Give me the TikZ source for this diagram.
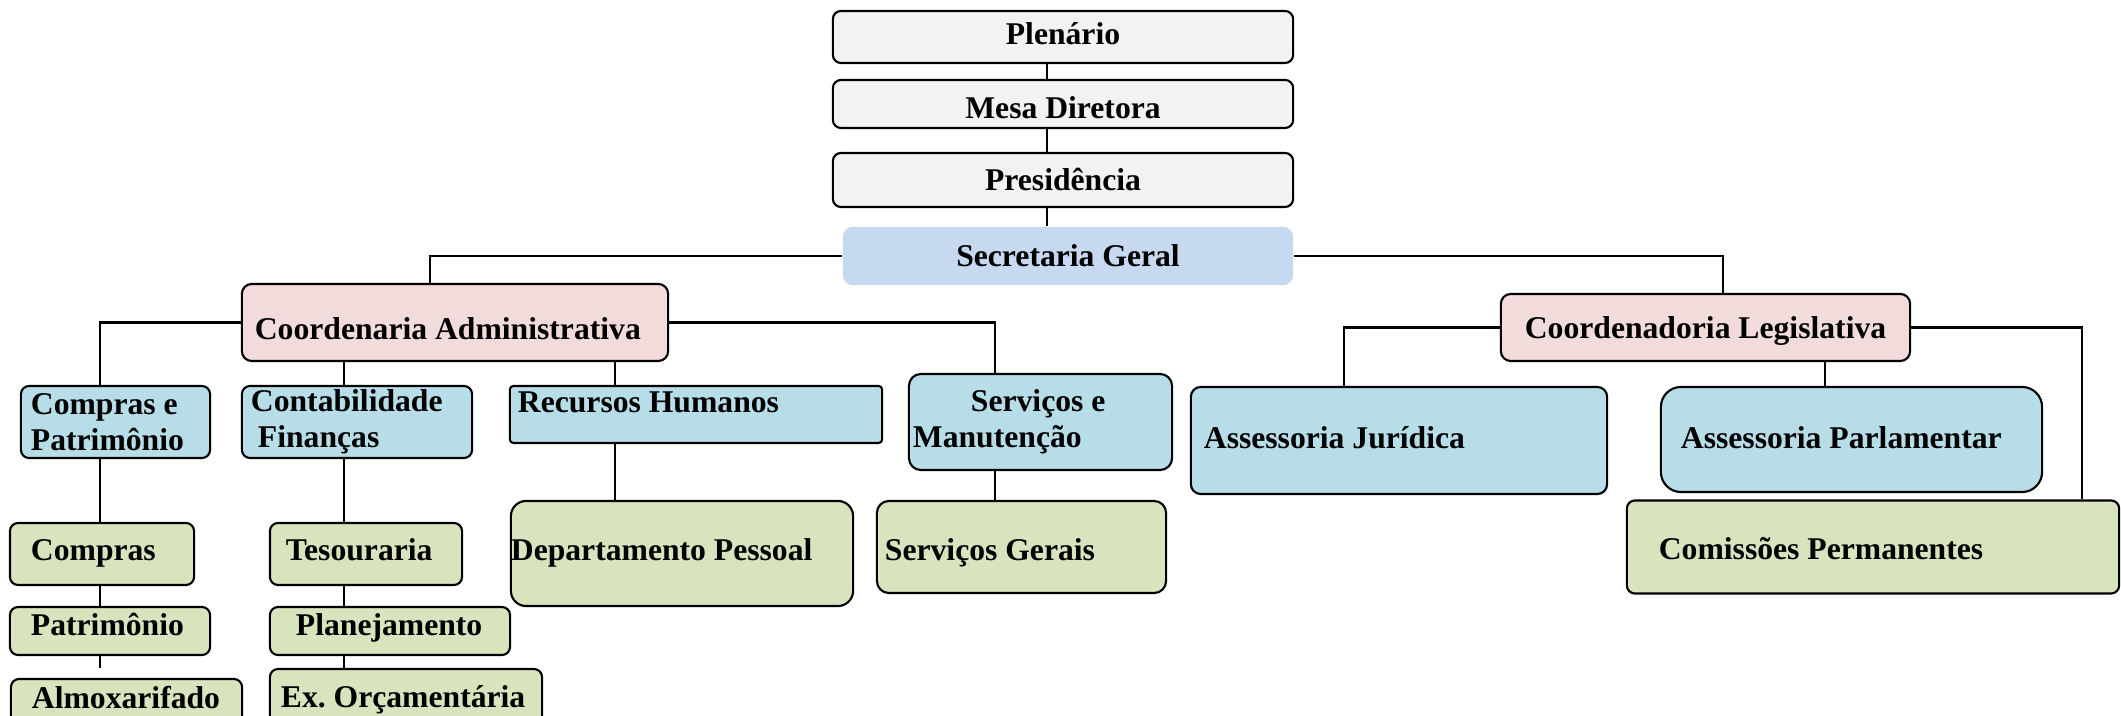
\documentclass[tikz,border=0pt]{standalone}
\usepackage{fontspec}
\setmainfont{Liberation Serif}
\usepackage{tikz}
\pgfdeclarelayer{background}
\pgfdeclarelayer{foreground}
\pgfsetlayers{background,main,foreground}
\definecolor{topgray}{HTML}{F2F2F2}
\definecolor{secblue}{HTML}{C6D9F1}
\definecolor{coordpink}{HTML}{F2DCDB}
\definecolor{deptblue}{HTML}{B7DEE8}
\definecolor{sectgreen}{HTML}{D7E4BD}
\hyphenpenalty=10000
\exhyphenpenalty=10000
\tikzset{
  unit/.style={draw=black, line width=0.6pt, rounded corners=2.3pt, inner ysep=0pt, font=\fontsize{9}{10.2}\selectfont\bfseries},
  topbox/.style={unit, fill=topgray, minimum width=4.6cm},
  secbox/.style={unit, draw=none, fill=secblue, rounded corners=2.8pt},
  coordbox/.style={unit, fill=coordpink, rounded corners=2.8pt},
  deptbox/.style={unit, fill=deptblue},
  sectbox/.style={unit, fill=sectgreen},
  lft/.style 2 args={inner xsep=#1, text width=#2, align=flush left},
  txt/.style={text height=6.5pt, text depth=#1},
  txt/.default=0.5pt,
  link/.style={line width=0.6pt},
}

\begin{document}
\begin{tikzpicture}[x=0.01cm,y=-0.01cm]
\useasboundingbox (0,0) rectangle (2121,716);
\clip (0,0) rectangle (2121,716);

\node[topbox, txt=2.5pt, minimum height=0.52cm] (plen) at (1063,37) {Plenário};
\node[topbox, txt, text height=8.8pt, minimum height=0.48cm] (mesa) at (1063,104) {Mesa Diretora};
\node[topbox, txt, minimum height=0.54cm] (pres) at (1063,180) {Presidência};
\node[secbox, txt, minimum width=4.5cm, minimum height=0.58cm] (secg) at (1068,256) {Secretaria Geral};

\node[coordbox, txt, text height=10.2pt, lft={0.13cm}{4cm}, minimum width=4.26cm, minimum height=0.77cm] (cadm) at (455,322.5) {Coordenaria~Administrativa};
\node[coordbox, txt, minimum width=4.09cm, minimum height=0.67cm] (cleg) at (1705.5,327.5) {Coordenadoria Legislativa};

\node[deptbox, lft={0.1cm}{1.69cm}, minimum width=1.89cm, minimum height=0.72cm] (cp) at (115.5,422) {Compras e\\Patrimônio};
\node[deptbox, lft={0.09cm}{2.12cm}, minimum width=2.3cm, minimum height=0.72cm] (cf) at (357,422) {Contabilidade\\\hspace*{2pt}Finanças};
\node[deptbox, rounded corners=1pt, txt=7.9pt, lft={0.08cm}{3.56cm}, minimum width=3.72cm, minimum height=0.57cm] (rh) at (696,414.5) {Recursos Humanos};
\node[deptbox, rounded corners=3.4pt, lft={0.04cm}{2.55cm}, minimum width=2.63cm, minimum height=0.96cm] (sm) at (1040.5,422) {\hspace*{16.5pt}Serviços e\\Manutenção};
\node[deptbox, rounded corners=2.8pt, txt=1.9pt, lft={0.13cm}{3.9cm}, minimum width=4.16cm, minimum height=1.07cm] (aj) at (1399,440.5) {Assessoria Jurídica};
\node[deptbox, rounded corners=5.7pt, txt=1.4pt, lft={0.2cm}{3.41cm}, minimum width=3.81cm, minimum height=1.05cm] (ap) at (1851.5,439.5) {Assessoria Parlamentar};

\node[sectbox, txt=2.8pt, lft={0.21cm}{1.42cm}, minimum width=1.84cm, minimum height=0.62cm] (cmp) at (102,554) {Compras};
\node[sectbox, txt=3.9pt, lft={0.21cm}{1.58cm}, minimum width=2cm, minimum height=0.48cm] (pat) at (110,631) {Patrimônio};
\node[sectbox, txt=2.8pt, lft={0.21cm}{1.89cm}, minimum width=2.31cm, minimum height=0.46cm] (almo) at (126.5,702) {Almoxarifado};
\node[sectbox, txt=2.8pt, lft={0.16cm}{1.6cm}, minimum width=1.92cm, minimum height=0.62cm] (tes) at (366,554) {Tesouraria};
\node[sectbox, txt=3.9pt, lft={0.26cm}{1.88cm}, minimum width=2.4cm, minimum height=0.48cm] (plan) at (390,631) {Planejamento};
\node[sectbox, txt, lft={0.11cm}{2.5cm}, minimum width=2.72cm, minimum height=0.56cm] (exo) at (406,697) {Ex.~Orçamentária};
\node[sectbox, rounded corners=4.3pt, txt=2.5pt, lft={0cm}{3.42cm}, minimum width=3.42cm, minimum height=1.05cm] (dp) at (682,553.5) {Departamento Pessoal};
\node[sectbox, rounded corners=3.4pt, txt, text height=8.2pt, lft={0.08cm}{2.73cm}, minimum width=2.89cm, minimum height=0.92cm] (sg) at (1021.5,547) {Serviços Gerais};
\node[sectbox, txt, text height=7.6pt, lft={0.32cm}{4.28cm}, minimum width=4.92cm, minimum height=0.93cm] (cmpe) at (1873,547) {Comissões Permanentes};

\coordinate (spine) at (1047,0);
\coordinate (coladm) at (430,0);
\coordinate (colleg) at (1723,0);
\coordinate (colcp) at (100,0);
\coordinate (colcf) at (344,0);
\coordinate (colrh) at (615,0);
\coordinate (colsm) at (995,0);
\coordinate (colaj) at (1344,0);
\coordinate (colap) at (1825,0);
\coordinate (colcm) at (2082,0);
\coordinate (almotop) at (100,668);

\begin{pgfonlayer}{background}
\draw[link] (plen.south -| spine) -- (mesa.north -| spine);
\draw[link] (mesa.south -| spine) -- (pres.north -| spine);
\draw[link] (pres.south -| spine) -- (secg.north -| spine);
\draw[link] (secg.west) -| (coladm |- cadm.north);
\draw[link] (secg.east) -| (colleg |- cleg.north);
\draw[link] (cadm.west) -| (colcp |- cp.north);
\draw[link] (cadm.east) -| (colsm |- sm.north);
\draw[link] (cadm.south -| colcf) -- (cf.north -| colcf);
\draw[link] (cadm.south -| colrh) -- (rh.north -| colrh);
\draw[link] (cp.south -| colcp) -- (cmp.north -| colcp);
\draw[link] (cmp.south -| colcp) -- (pat.north -| colcp);
\draw[link] (pat.south -| colcp) -- (almotop);
\draw[link] (cf.south -| colcf) -- (tes.north -| colcf);
\draw[link] (tes.south -| colcf) -- (plan.north -| colcf);
\draw[link] (plan.south -| colcf) -- (exo.north -| colcf);
\draw[link] (rh.south -| colrh) -- (dp.north -| colrh);
\draw[link] (sm.south -| colsm) -- (sg.north -| colsm);
\draw[link] (cleg.west) -| (colaj |- aj.north);
\draw[link] (cleg.east) -| (colcm |- cmpe.north);
\draw[link] (cleg.south -| colap) -- (ap.north -| colap);
\end{pgfonlayer}
\end{tikzpicture}
\end{document}
